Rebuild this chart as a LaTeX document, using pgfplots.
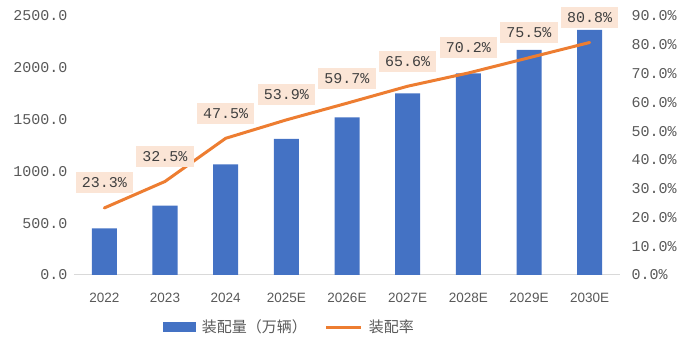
\documentclass[border=0pt]{standalone}
\usepackage{pgfplots}
\pgfplotsset{compat=1.18}
\usepackage{fontspec}
\setmainfont{Liberation Sans}
\setmonofont{Liberation Mono}
\newfontfamily\cjk{Noto Sans CJK SC}
\definecolor{barblue}{HTML}{4472C4}
\definecolor{lineorange}{HTML}{ED7D31}
\definecolor{labfill}{HTML}{FBE5D6}
\definecolor{tickgray}{HTML}{595959}
\definecolor{labtext}{HTML}{404040}
\definecolor{axgray}{HTML}{D9D9D9}
\pgfplotsset{/pgf/number format/assume math mode=true}
\begin{document}
\begin{tikzpicture}[x=1pt,y=1pt]
\useasboundingbox (-74,-67) rectangle (624,275);
\begin{axis}[
  at={(0,0)}, anchor=south west,
  scale only axis, width=546pt, height=259pt,
  xmin=-0.5, xmax=8.5, ymin=0, ymax=2500,
  axis x line*=bottom, axis y line*=left,
  x axis line style={draw=axgray, line width=1pt},
  y axis line style={draw=none},
  major tick length=0pt,
  xtick={0,...,8},
  xticklabels={2022,2023,2024,2025E,2026E,2027E,2028E,2029E,2030E},
  x tick label style={font=\fontsize{13.5}{13.5}\selectfont, text=tickgray, yshift=-15pt},
  ytick={0,500,...,2500},
  y tick label style={font=\ttfamily\fontsize{15}{15}\selectfont, text=tickgray, xshift=-3pt,
    /pgf/number format/.cd, fixed, fixed zerofill, precision=1, 1000 sep={}},
  ybar, bar width=25pt,
  legend style={at={(0.157,-0.2008)}, anchor=west, draw=none, fill=none,
    legend columns=2, font=\cjk\fontsize{15}{15}\selectfont, text=tickgray,
    /tikz/every odd column/.append style={column sep=4pt},
    /tikz/every even column/.append style={column sep=16pt}},
  legend cell align=left,
]
\addplot[fill=barblue, draw=none,
  legend image code/.code={\fill[barblue] (0pt,-5pt) rectangle (33pt,5pt);}]
  coordinates {(0,451) (1,670) (2,1068) (3,1313) (4,1522) (5,1754) (6,1947) (7,2172) (8,2365)};
\addlegendentry{装配量（万辆）}
\addlegendimage{legend image code/.code={\draw[lineorange, line width=3pt] (0pt,0pt) -- (35pt,0pt);}}
\addlegendentry{装配率}
\end{axis}
\begin{axis}[
  at={(0,0)}, anchor=south west,
  scale only axis, width=546pt, height=259pt,
  xmin=-0.5, xmax=8.5, ymin=0, ymax=90,
  axis y line*=right, axis x line=none,
  y axis line style={draw=none},
  major tick length=0pt,
  ytick={0,10,...,90},
  yticklabel={\pgfmathprintnumber[fixed, fixed zerofill, precision=1]{\tick}\%},
  y tick label style={font=\ttfamily\fontsize{15}{15}\selectfont, text=tickgray, xshift=8pt},
  clip=false,
]
\addplot[lineorange, line width=3pt, line cap=round, line join=round,
  nodes near coords={\pgfmathprintnumber[fixed, fixed zerofill, precision=1]{\pgfplotspointmeta}\%},
  every node near coord/.append style={fill=labfill, text=labtext,
    font=\ttfamily\fontsize{15}{15}\selectfont, anchor=south, yshift=13pt,
    inner xsep=6pt, inner ysep=5.5pt}]
  coordinates {(0,23.3) (1,32.5) (2,47.5) (3,53.9) (4,59.7) (5,65.6) (6,70.2) (7,75.5) (8,80.8)};
\end{axis}
\end{tikzpicture}
\end{document}
